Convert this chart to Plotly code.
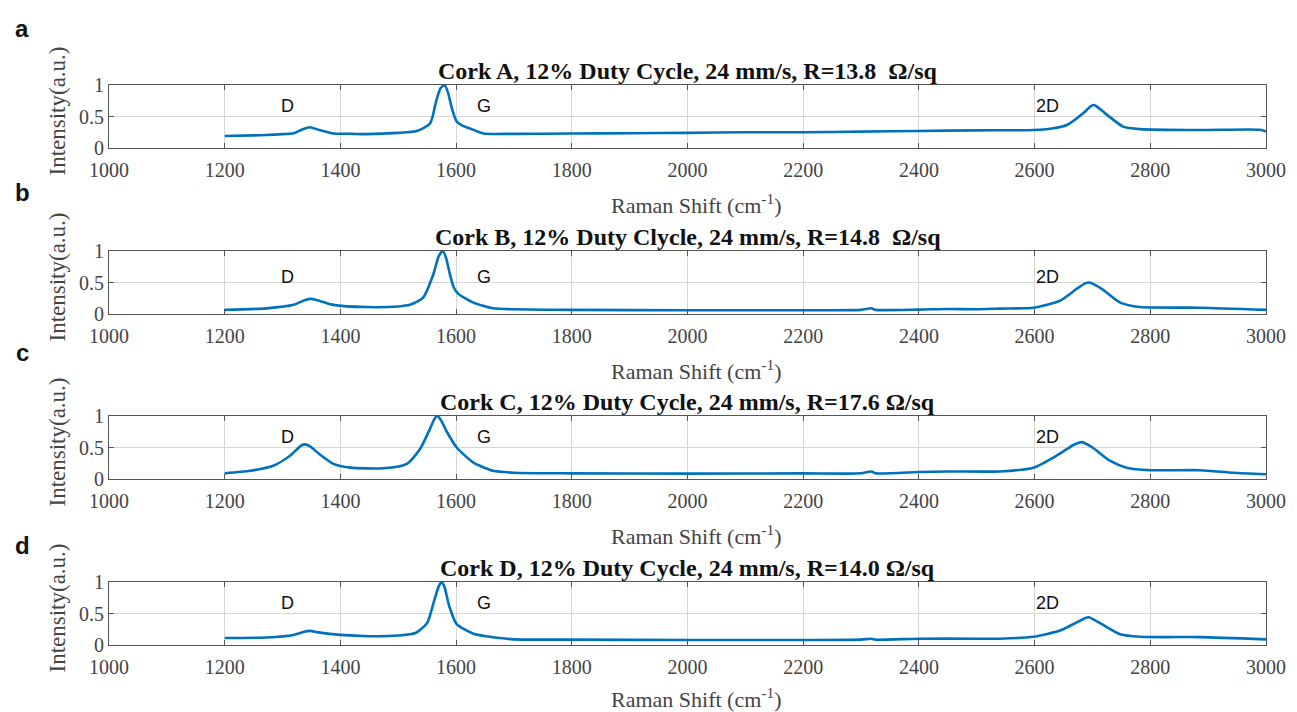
import plotly.graph_objects as go

# ---------------- data ----------------
titles = [
    "Cork A, 12% Duty Cycle, 24 mm/s, R=13.8  Ω/sq",
    "Cork B, 12% Duty Clycle, 24 mm/s, R=14.8  Ω/sq",
    "Cork C, 12% Duty Cycle, 24 mm/s, R=17.6 Ω/sq",
    "Cork D, 12% Duty Cycle, 24 mm/s, R=14.0 Ω/sq",
]
panel_letters = ["a", "b", "c", "d"]

xa = [1200, 1250, 1272, 1300, 1319, 1333, 1347, 1362, 1388, 1420, 1445, 1500, 1532, 1555, 1566, 1573, 1580,
      1586, 1593, 1601, 1612, 1624, 1647, 1700, 1800, 1900, 2000, 2100, 2200, 2300, 2400, 2500, 2598,
      2630, 2656, 2684, 2698, 2704, 2722, 2753, 2782, 2886, 2990, 3000]
ya = [0.19, 0.20, 0.206, 0.22, 0.233, 0.29, 0.33, 0.29, 0.23, 0.225, 0.22, 0.24, 0.27, 0.39, 0.76, 0.95, 1.0,
      0.88, 0.62, 0.42, 0.35, 0.31, 0.23, 0.225, 0.23, 0.235, 0.24, 0.25, 0.25, 0.26, 0.27, 0.28, 0.285,
      0.31, 0.365, 0.55, 0.67, 0.68, 0.55, 0.34, 0.30, 0.285, 0.29, 0.26]

xb = [1200, 1272, 1319, 1338, 1350, 1367, 1388, 1445, 1500, 1520, 1543, 1561, 1570, 1577, 1583, 1589, 1596,
      1604, 1630, 1664, 1700, 1800, 2000, 2200, 2300, 2318, 2325, 2400, 2450, 2500, 2540, 2598, 2644,
      2673, 2688, 2694, 2716, 2748, 2782, 2886, 3000]
yb = [0.065, 0.09, 0.145, 0.22, 0.24, 0.20, 0.145, 0.11, 0.12, 0.145, 0.26, 0.64, 0.92, 1.0, 0.88, 0.64, 0.42,
      0.32, 0.18, 0.09, 0.075, 0.065, 0.06, 0.06, 0.065, 0.09, 0.065, 0.07, 0.08, 0.075, 0.086, 0.10, 0.21,
      0.40, 0.49, 0.50, 0.40, 0.18, 0.11, 0.10, 0.065]

xc = [1200, 1244, 1284, 1313, 1332, 1339, 1347, 1363, 1388, 1417, 1474, 1515, 1538, 1555, 1563, 1568, 1574,
      1584, 1601, 1630, 1664, 1700, 1800, 2000, 2200, 2300, 2318, 2325, 2400, 2450, 2540, 2598, 2638,
      2667, 2678, 2682, 2700, 2730, 2759, 2800, 2886, 2943, 3000]
yc = [0.09, 0.13, 0.21, 0.37, 0.53, 0.55, 0.52, 0.40, 0.24, 0.18, 0.17, 0.24, 0.48, 0.80, 0.96, 1.0, 0.93,
      0.75, 0.50, 0.26, 0.13, 0.10, 0.09, 0.085, 0.09, 0.09, 0.12, 0.09, 0.11, 0.12, 0.12, 0.18, 0.37,
      0.54, 0.58, 0.585, 0.50, 0.29, 0.18, 0.14, 0.14, 0.10, 0.075]

xd = [1200, 1272, 1319, 1337, 1347, 1362, 1400, 1450, 1500, 1530, 1550, 1562, 1570, 1575, 1580, 1588, 1601,
      1630, 1676, 1700, 1800, 2000, 2200, 2300, 2318, 2325, 2400, 2500, 2540, 2598, 2644, 2673, 2688,
      2694, 2716, 2748, 2782, 2886, 3000]
yd = [0.11, 0.12, 0.16, 0.21, 0.225, 0.20, 0.16, 0.14, 0.15, 0.19, 0.35, 0.70, 0.93, 1.0, 0.92, 0.62, 0.33,
      0.18, 0.11, 0.09, 0.085, 0.08, 0.08, 0.085, 0.10, 0.085, 0.10, 0.10, 0.10, 0.13, 0.23, 0.36, 0.43,
      0.44, 0.33, 0.17, 0.13, 0.125, 0.09]

series_x = [xa, xb, xc, xd]
series_y = [ya, yb, yc, yd]

peak_labels = ["D", "G", "2D"]
peak_label_x = [1308, 1648, 2623]
peak_label_y = [0.67, 0.585, 0.67, 0.66]

x_ticks = [1000, 1200, 1400, 1600, 1800, 2000, 2200, 2400, 2600, 2800, 3000]
y_ticks = [0, 0.5, 1]
y_tick_text = ["0", "0.5", "1"]

# ---------------- layout geometry (page pixels; page body has an 8px margin) ----------------
OFF = 8
W, H = 1297 - OFF, 712 - OFF
left_px, right_px = 109 - OFF, 1266 - OFF
panel_tops = [85 - OFF, 251 - OFF, 416 - OFF, 582 - OFF]
panel_h = 63
letter_y = [28 - OFF, 192 - OFF, 353 - OFF, 545 - OFF]
letter_x = 22 - OFF
ylab_x = 57 - OFF
xtitle_gap = [56, 56, 56, 53]

SERIF = "Liberation Serif, Times New Roman, serif"
SANS = "Liberation Sans, Arial, sans-serif"
GRAY = "#444444"
BLUE = "#0072BD"

fig = go.Figure()
annotations = []
xd0, xd1 = left_px / W, right_px / W
xmid_px = (left_px + right_px) / 2

for i in range(4):
    top = panel_tops[i]
    bot = top + panel_h
    dom = [1 - bot / H, 1 - top / H]
    sfx = "" if i == 0 else str(i + 1)
    fig.add_trace(go.Scatter(x=series_x[i], y=series_y[i], mode="lines",
                             line=dict(color=BLUE, width=2.6, shape="spline", smoothing=0.6),
                             xaxis="x" + sfx, yaxis="y" + sfx,
                             showlegend=False, hoverinfo="skip"))
    fig.layout["xaxis" + sfx] = dict(
        domain=[xd0, xd1], anchor="y" + sfx, range=[1000, 3000], tickvals=x_ticks,
        showgrid=True, gridcolor="#d6d6d6", gridwidth=1, zeroline=False, automargin=False,
        showline=True, linecolor="#555555", linewidth=1, mirror="allticks",
        ticks="inside", ticklen=5, tickcolor="#555555",
        tickfont=dict(family=SERIF, size=20, color=GRAY), ticklabelstandoff=4)
    fig.layout["yaxis" + sfx] = dict(
        domain=dom, anchor="x" + sfx, range=[0, 1], tickvals=y_ticks, ticktext=y_tick_text,
        showgrid=True, gridcolor="#d6d6d6", gridwidth=1, zeroline=False, automargin=False,
        showline=True, linecolor="#555555", linewidth=1, mirror="allticks",
        ticks="inside", ticklen=5, tickcolor="#555555",
        tickfont=dict(family=SERIF, size=20, color=GRAY))

    # title
    annotations.append(dict(text="<b>" + titles[i] + "</b>", xref="paper", yref="paper",
                            x=xmid_px / W, y=1 - (top - 14) / H, xanchor="center", yanchor="middle",
                            showarrow=False, font=dict(family=SERIF, size=24, color="#111111")))
    # x axis title
    annotations.append(dict(text="Raman Shift (cm<sup>-1</sup>)", xref="paper", yref="paper",
                            x=(xmid_px + 8) / W, y=1 - (bot + xtitle_gap[i]) / H, xanchor="center",
                            yanchor="middle", showarrow=False, font=dict(family=SERIF, size=22, color=GRAY)))
    # y axis title
    annotations.append(dict(text="Intensity(a.u.)", xref="paper", yref="paper", textangle=-90,
                            x=ylab_x / W, y=1 - (top + panel_h / 2 - 5) / H, xanchor="center", yanchor="middle",
                            showarrow=False, font=dict(family=SERIF, size=23, color=GRAY)))
    # panel letter
    annotations.append(dict(text="<b>" + panel_letters[i] + "</b>", xref="paper", yref="paper",
                            x=letter_x / W, y=1 - letter_y[i] / H, xanchor="center", yanchor="middle",
                            showarrow=False, font=dict(family=SANS, size=24, color="#111111")))
    # peak labels
    for lab, lx in zip(peak_labels, peak_label_x):
        annotations.append(dict(text=lab, xref="x" + sfx, yref="y" + sfx, x=lx, y=peak_label_y[i],
                                xanchor="center", yanchor="middle", showarrow=False,
                                font=dict(family=SANS, size=18, color="#111111")))

fig.update_layout(width=W, height=H, margin=dict(l=0, r=0, t=0, b=0, autoexpand=False),
                  paper_bgcolor="white", plot_bgcolor="white", annotations=annotations)

fig.write_html("out.html")
